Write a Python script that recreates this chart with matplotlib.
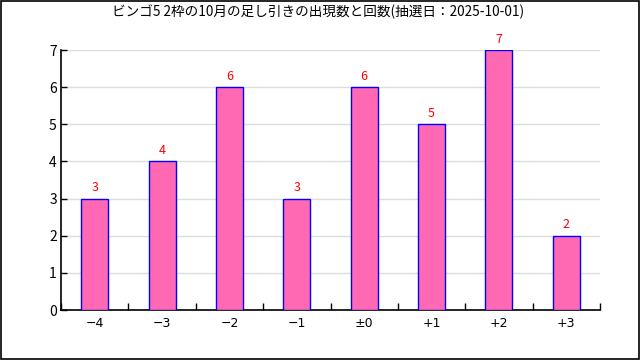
import matplotlib
matplotlib.use("Agg")
import matplotlib.pyplot as plt
from matplotlib.patches import Rectangle
from matplotlib.ticker import FixedLocator

plt.rcParams['font.family'] = ['Noto Sans CJK JP', 'DejaVu Sans']

categories = ["−4", "−3", "−2", "−1", "±0", "+1", "+2", "+3"]
counts = [3, 4, 6, 3, 6, 5, 7, 2]
title = "ビンゴ5 2枠の10月の足し引きの出現数と回数(抽選日：2025-10-01)"

fig = plt.figure(figsize=(6.4, 3.6), dpi=100)
fig.patches.append(Rectangle((0.0008, 0.0014), 0.9975, 0.996, transform=fig.transFigure,
                             fill=False, edgecolor='black', linewidth=1.2))
ax = fig.add_axes([61/640, 50/360, 539/640, 260/360])

x = list(range(len(categories)))
ax.bar(x, counts, width=0.4, color='#ff69b4', edgecolor='blue', linewidth=1, zorder=3)
for xi, v in zip(x, counts):
    ax.text(xi, v + 0.12, str(v), ha='center', va='bottom', color='red', fontsize=9, zorder=4)

ax.set_xlim(-0.5, len(categories) - 0.5)
ax.set_ylim(0, 7)
ax.set_yticks(range(0, 8))
ax.set_xticks(x)
ax.set_xticklabels(categories, fontsize=9, family=['DejaVu Sans'])
ax.tick_params(axis='x', which='major', length=0, pad=5)
ax.xaxis.set_minor_locator(FixedLocator([i + 0.5 for i in range(-1, len(categories))]))
ax.tick_params(axis='x', which='minor', direction='in', length=5, width=1)
ax.tick_params(axis='y', direction='in', length=4, width=1, labelsize=10, pad=3)
ax.grid(axis='y', color='#dddddd', linewidth=1, zorder=0)
ax.spines['top'].set_visible(False)
ax.spines['right'].set_visible(False)
ax.spines['left'].set_linewidth(1.2)
ax.spines['bottom'].set_linewidth(1.2)

fig.text(318/640, 1 - 12/360, title, ha='center', va='center', fontsize=9.8)

fig.savefig("out.png", dpi=100)
